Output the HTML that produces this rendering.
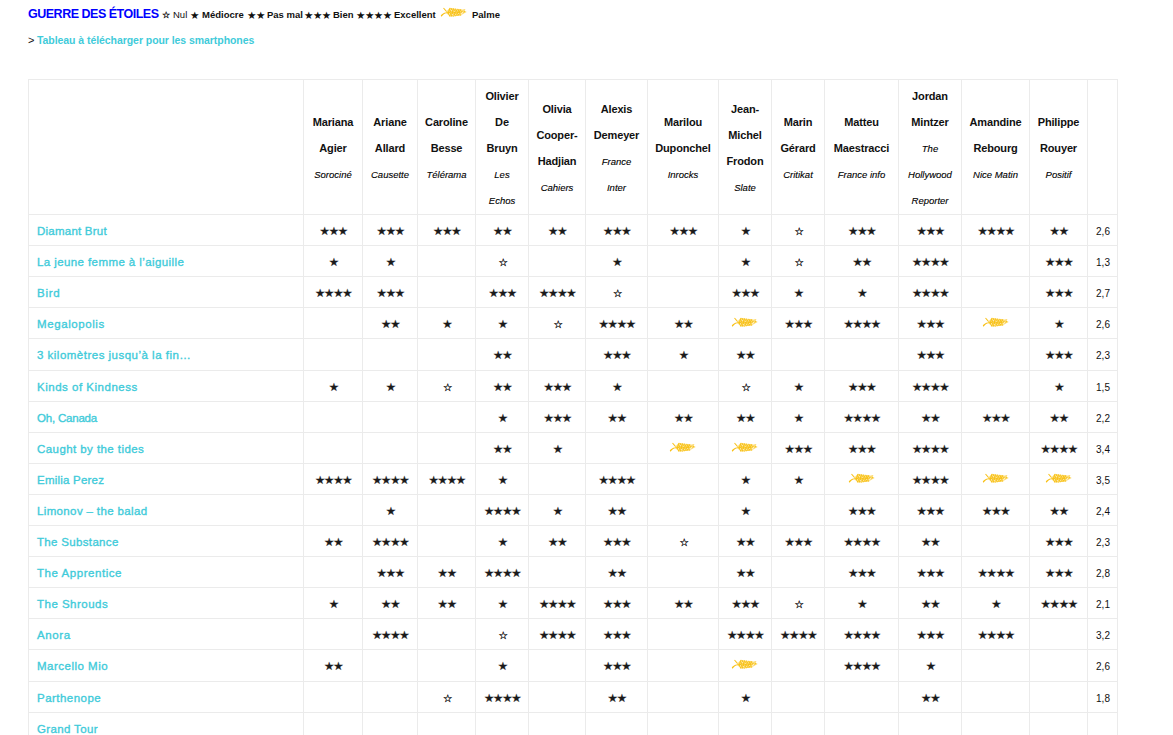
<!DOCTYPE html>
<html lang="fr"><head><meta charset="utf-8"><title>Guerre des étoiles</title>
<style>
*{box-sizing:border-box}
html,body{margin:0;padding:0;background:#fff}
body{width:1173px;height:735px;overflow:hidden;position:relative;font-family:"Liberation Sans",Arial,sans-serif;color:#111}
.title{position:absolute;left:28px;top:1px;font-weight:bold;font-size:12.5px;letter-spacing:-0.49px;color:#0000ff;white-space:nowrap;line-height:26px}
.lg{position:absolute;top:2px;font-size:9.5px;line-height:26px;white-space:nowrap;font-weight:bold;color:#111}
.lg.n{font-weight:normal}
.lst{font-family:"DejaVu Sans",sans-serif;font-weight:normal;font-size:10.5px;letter-spacing:-0.5px}
.lst.e{-webkit-text-stroke:0.3px #111;font-size:9.2px}
.lp{position:absolute;left:440px;top:6px}
.link{position:absolute;left:28px;top:27px;font-size:10.5px;line-height:26px;white-space:nowrap;color:#111}
.link .gt{font-size:11px}
.link a{position:absolute;left:9px;color:#3fcbda;font-size:10.5px;font-weight:bold;letter-spacing:-0.06px}
.grid{position:absolute;left:28px;top:79px;display:grid;background:#ebebeb;padding:1px;gap:1px;
 grid-template-columns:274px 58px 54px 57px 52px 56px 61px 70px 52px 52px 73px 62px 67px 57px 29px;grid-template-rows:134px 30px 30px 30px 30px 31px 30px 30px 30px 30px 30px 30px 30px 30px 30px 31px 30px 30px}
.c{background:#fff;position:relative;overflow:hidden}
.hd{text-align:center}
.hb{position:absolute;left:0;right:0;top:50%;transform:translateY(-50%)}
.ln{height:26px;line-height:26px;font-size:11px;font-weight:bold;position:relative;top:1px;letter-spacing:-0.15px}
.lj{height:26px;line-height:26px;font-size:9.5px;font-style:italic;position:relative;top:2px;color:#000;-webkit-text-stroke:0.12px #000}
.fn{font-size:11.5px;font-weight:normal;padding-left:8px;line-height:30px;padding-top:1px;white-space:nowrap}
.fn a{color:#3fcbda;-webkit-text-stroke:0.35px #3fcbda}
.sc{text-align:center;line-height:30px}
.st{font-family:"DejaVu Sans",sans-serif;font-size:11.5px;letter-spacing:-1.2px;color:#1a1a1a;-webkit-text-stroke:0.15px #1a1a1a;position:relative;left:0.2px}
.palm{display:block;margin:8px auto 0}
.st.e{font-size:10.5px;-webkit-text-stroke:0.3px #111;left:0.5px;top:-0.5px}
.av{font-size:10px;padding-left:8px;line-height:30px;padding-top:2px;letter-spacing:0.05px;color:#111}
</style></head>
<body>
<div class="title">GUERRE DES ÉTOILES</div>
<div class="lg " style="left:162px"><span class="lst e">☆</span></div><div class="lg n" style="left:173px">Nul</div><div class="lg " style="left:190px"><span class="lst">★</span></div><div class="lg " style="left:202px">Médiocre</div><div class="lg " style="left:247px"><span class="lst">★★</span></div><div class="lg " style="left:267px">Pas mal</div><div class="lg " style="left:304px"><span class="lst">★★★</span></div><div class="lg " style="left:333px">Bien</div><div class="lg " style="left:356px"><span class="lst">★★★★</span></div><div class="lg " style="left:394px">Excellent</div><svg class="lp" width="28" height="12" viewBox="0 0 28 12"><path d="M0.9 9.2 C2.2 7.6 3.8 6.7 5.8 6.4 L6.4 7.2 C4.6 7.4 3 8.4 1.8 10.4 C1.3 10.6 0.8 10 0.9 9.2 Z" fill="#f8c016"/><path d="M3.1 2.3 L3.9 1.8 L7 5.3 L6.3 5.9 Z" fill="#f8c016"/><path d="M6.2 6.8 C7 5 8.2 3 9.8 2 C11.5 2.6 13 2.4 14.5 2.8 C16.5 2.7 18.5 3.2 20.5 3.6 L21.9 3.8 L24.8 2.9 L25.5 3.4 L24.6 4.6 L26.7 6.1 L24.8 6.9 C23.4 7.6 22 8.6 20.5 9.3 C18 9.9 15 10.3 12.6 10.5 C11 10.5 9.6 10 8.6 9.2 C7.6 8.6 6.8 7.8 6.2 6.8 Z" fill="#fcdc76"/><g fill="none" stroke="#f8c21a" stroke-width="1.1" stroke-linecap="round"><path d="M8.4 6.6 L10.0 2.3 M10.2 6.6 L11.8 2.5 M12.0 6.6 L13.6 2.7 M13.8 6.6 L15.4 3.0 M15.6 6.6 L17.2 3.2 M17.4 6.6 L19.0 3.4 M19.2 6.6 L20.8 3.6"/><path d="M8.4 6.9 L9.9 10.2 M10.2 6.9 L11.7 10.0 M12.0 6.9 L13.5 9.9 M13.8 6.9 L15.3 9.7 M15.6 6.9 L17.1 9.5 M17.4 6.9 L18.9 9.3 M19.2 6.9 L20.7 9.2"/><path d="M6.6 6.8 C12 6.6 18 6.4 24.5 5.6"/></g><g fill="#fff" opacity="0.8"><circle cx="9.6" cy="7.8" r="0.6"/><circle cx="11.4" cy="4.6" r="0.5"/><circle cx="12.6" cy="8.6" r="0.55"/><circle cx="14.4" cy="5.2" r="0.5"/><circle cx="15.8" cy="8.2" r="0.5"/><circle cx="17.6" cy="4.9" r="0.45"/><circle cx="18.8" cy="7.6" r="0.5"/><circle cx="10.8" cy="3.3" r="0.4"/><circle cx="13.2" cy="9.7" r="0.4"/><circle cx="20.4" cy="5.6" r="0.45"/><circle cx="16.6" cy="3.6" r="0.35"/><circle cx="11.0" cy="6.4" r="0.45"/><circle cx="13.6" cy="7.0" r="0.4"/><circle cx="16.2" cy="6.2" r="0.4"/></g><path d="M21.1 8.4 L23.4 5.2" stroke="#fff" stroke-width="0.8" opacity="0.85"/></svg><div class="lg " style="left:472px">Palme</div>
<div class="link"><span class="gt">&gt;</span> <a>Tableau à télécharger pour les smartphones</a></div>
<div class="grid">
<div class="c h0"></div>
<div class="c hd"><div class="hb"><div class="ln">Mariana</div><div class="ln">Agier</div><div class="lj">Sorociné</div></div></div>
<div class="c hd"><div class="hb"><div class="ln">Ariane</div><div class="ln">Allard</div><div class="lj">Causette</div></div></div>
<div class="c hd"><div class="hb"><div class="ln">Caroline</div><div class="ln">Besse</div><div class="lj">Télérama</div></div></div>
<div class="c hd"><div class="hb"><div class="ln">Olivier</div><div class="ln">De</div><div class="ln">Bruyn</div><div class="lj">Les</div><div class="lj">Echos</div></div></div>
<div class="c hd"><div class="hb"><div class="ln">Olivia</div><div class="ln">Cooper-</div><div class="ln">Hadjian</div><div class="lj">Cahiers</div></div></div>
<div class="c hd"><div class="hb"><div class="ln">Alexis</div><div class="ln">Demeyer</div><div class="lj">France</div><div class="lj">Inter</div></div></div>
<div class="c hd"><div class="hb"><div class="ln">Marilou</div><div class="ln">Duponchel</div><div class="lj">Inrocks</div></div></div>
<div class="c hd"><div class="hb"><div class="ln">Jean-</div><div class="ln">Michel</div><div class="ln">Frodon</div><div class="lj">Slate</div></div></div>
<div class="c hd"><div class="hb"><div class="ln">Marin</div><div class="ln">Gérard</div><div class="lj">Critikat</div></div></div>
<div class="c hd"><div class="hb"><div class="ln">Matteu</div><div class="ln">Maestracci</div><div class="lj">France info</div></div></div>
<div class="c hd"><div class="hb"><div class="ln">Jordan</div><div class="ln">Mintzer</div><div class="lj">The</div><div class="lj">Hollywood</div><div class="lj">Reporter</div></div></div>
<div class="c hd"><div class="hb"><div class="ln">Amandine</div><div class="ln">Rebourg</div><div class="lj">Nice Matin</div></div></div>
<div class="c hd"><div class="hb"><div class="ln">Philippe</div><div class="ln">Rouyer</div><div class="lj">Positif</div></div></div>
<div class="c hd"></div>
<div class="c fn"><a style="letter-spacing:0.23px">Diamant Brut</a></div>
<div class="c sc"><span class="st">★★★</span></div>
<div class="c sc"><span class="st">★★★</span></div>
<div class="c sc"><span class="st">★★★</span></div>
<div class="c sc"><span class="st">★★</span></div>
<div class="c sc"><span class="st">★★</span></div>
<div class="c sc"><span class="st">★★★</span></div>
<div class="c sc"><span class="st">★★★</span></div>
<div class="c sc"><span class="st">★</span></div>
<div class="c sc"><span class="st e">☆</span></div>
<div class="c sc"><span class="st">★★★</span></div>
<div class="c sc"><span class="st">★★★</span></div>
<div class="c sc"><span class="st">★★★★</span></div>
<div class="c sc"><span class="st">★★</span></div>
<div class="c av">2,6</div>
<div class="c fn"><a style="letter-spacing:0.41px">La jeune femme à l’aiguille</a></div>
<div class="c sc"><span class="st">★</span></div>
<div class="c sc"><span class="st">★</span></div>
<div class="c sc"></div>
<div class="c sc"><span class="st e">☆</span></div>
<div class="c sc"></div>
<div class="c sc"><span class="st">★</span></div>
<div class="c sc"></div>
<div class="c sc"><span class="st">★</span></div>
<div class="c sc"><span class="st e">☆</span></div>
<div class="c sc"><span class="st">★★</span></div>
<div class="c sc"><span class="st">★★★★</span></div>
<div class="c sc"></div>
<div class="c sc"><span class="st">★★★</span></div>
<div class="c av">1,3</div>
<div class="c fn"><a style="letter-spacing:0.73px">Bird</a></div>
<div class="c sc"><span class="st">★★★★</span></div>
<div class="c sc"><span class="st">★★★</span></div>
<div class="c sc"></div>
<div class="c sc"><span class="st">★★★</span></div>
<div class="c sc"><span class="st">★★★★</span></div>
<div class="c sc"><span class="st e">☆</span></div>
<div class="c sc"></div>
<div class="c sc"><span class="st">★★★</span></div>
<div class="c sc"><span class="st">★</span></div>
<div class="c sc"><span class="st">★</span></div>
<div class="c sc"><span class="st">★★★★</span></div>
<div class="c sc"></div>
<div class="c sc"><span class="st">★★★</span></div>
<div class="c av">2,7</div>
<div class="c fn"><a style="letter-spacing:0.59px">Megalopolis</a></div>
<div class="c sc"></div>
<div class="c sc"><span class="st">★★</span></div>
<div class="c sc"><span class="st">★</span></div>
<div class="c sc"><span class="st">★</span></div>
<div class="c sc"><span class="st e">☆</span></div>
<div class="c sc"><span class="st">★★★★</span></div>
<div class="c sc"><span class="st">★★</span></div>
<div class="c sc"><svg class="palm" width="28" height="12" viewBox="0 0 28 12"><path d="M0.9 9.2 C2.2 7.6 3.8 6.7 5.8 6.4 L6.4 7.2 C4.6 7.4 3 8.4 1.8 10.4 C1.3 10.6 0.8 10 0.9 9.2 Z" fill="#f8c016"/><path d="M3.1 2.3 L3.9 1.8 L7 5.3 L6.3 5.9 Z" fill="#f8c016"/><path d="M6.2 6.8 C7 5 8.2 3 9.8 2 C11.5 2.6 13 2.4 14.5 2.8 C16.5 2.7 18.5 3.2 20.5 3.6 L21.9 3.8 L24.8 2.9 L25.5 3.4 L24.6 4.6 L26.7 6.1 L24.8 6.9 C23.4 7.6 22 8.6 20.5 9.3 C18 9.9 15 10.3 12.6 10.5 C11 10.5 9.6 10 8.6 9.2 C7.6 8.6 6.8 7.8 6.2 6.8 Z" fill="#fcdc76"/><g fill="none" stroke="#f8c21a" stroke-width="1.1" stroke-linecap="round"><path d="M8.4 6.6 L10.0 2.3 M10.2 6.6 L11.8 2.5 M12.0 6.6 L13.6 2.7 M13.8 6.6 L15.4 3.0 M15.6 6.6 L17.2 3.2 M17.4 6.6 L19.0 3.4 M19.2 6.6 L20.8 3.6"/><path d="M8.4 6.9 L9.9 10.2 M10.2 6.9 L11.7 10.0 M12.0 6.9 L13.5 9.9 M13.8 6.9 L15.3 9.7 M15.6 6.9 L17.1 9.5 M17.4 6.9 L18.9 9.3 M19.2 6.9 L20.7 9.2"/><path d="M6.6 6.8 C12 6.6 18 6.4 24.5 5.6"/></g><g fill="#fff" opacity="0.8"><circle cx="9.6" cy="7.8" r="0.6"/><circle cx="11.4" cy="4.6" r="0.5"/><circle cx="12.6" cy="8.6" r="0.55"/><circle cx="14.4" cy="5.2" r="0.5"/><circle cx="15.8" cy="8.2" r="0.5"/><circle cx="17.6" cy="4.9" r="0.45"/><circle cx="18.8" cy="7.6" r="0.5"/><circle cx="10.8" cy="3.3" r="0.4"/><circle cx="13.2" cy="9.7" r="0.4"/><circle cx="20.4" cy="5.6" r="0.45"/><circle cx="16.6" cy="3.6" r="0.35"/><circle cx="11.0" cy="6.4" r="0.45"/><circle cx="13.6" cy="7.0" r="0.4"/><circle cx="16.2" cy="6.2" r="0.4"/></g><path d="M21.1 8.4 L23.4 5.2" stroke="#fff" stroke-width="0.8" opacity="0.85"/></svg></div>
<div class="c sc"><span class="st">★★★</span></div>
<div class="c sc"><span class="st">★★★★</span></div>
<div class="c sc"><span class="st">★★★</span></div>
<div class="c sc"><svg class="palm" width="28" height="12" viewBox="0 0 28 12"><path d="M0.9 9.2 C2.2 7.6 3.8 6.7 5.8 6.4 L6.4 7.2 C4.6 7.4 3 8.4 1.8 10.4 C1.3 10.6 0.8 10 0.9 9.2 Z" fill="#f8c016"/><path d="M3.1 2.3 L3.9 1.8 L7 5.3 L6.3 5.9 Z" fill="#f8c016"/><path d="M6.2 6.8 C7 5 8.2 3 9.8 2 C11.5 2.6 13 2.4 14.5 2.8 C16.5 2.7 18.5 3.2 20.5 3.6 L21.9 3.8 L24.8 2.9 L25.5 3.4 L24.6 4.6 L26.7 6.1 L24.8 6.9 C23.4 7.6 22 8.6 20.5 9.3 C18 9.9 15 10.3 12.6 10.5 C11 10.5 9.6 10 8.6 9.2 C7.6 8.6 6.8 7.8 6.2 6.8 Z" fill="#fcdc76"/><g fill="none" stroke="#f8c21a" stroke-width="1.1" stroke-linecap="round"><path d="M8.4 6.6 L10.0 2.3 M10.2 6.6 L11.8 2.5 M12.0 6.6 L13.6 2.7 M13.8 6.6 L15.4 3.0 M15.6 6.6 L17.2 3.2 M17.4 6.6 L19.0 3.4 M19.2 6.6 L20.8 3.6"/><path d="M8.4 6.9 L9.9 10.2 M10.2 6.9 L11.7 10.0 M12.0 6.9 L13.5 9.9 M13.8 6.9 L15.3 9.7 M15.6 6.9 L17.1 9.5 M17.4 6.9 L18.9 9.3 M19.2 6.9 L20.7 9.2"/><path d="M6.6 6.8 C12 6.6 18 6.4 24.5 5.6"/></g><g fill="#fff" opacity="0.8"><circle cx="9.6" cy="7.8" r="0.6"/><circle cx="11.4" cy="4.6" r="0.5"/><circle cx="12.6" cy="8.6" r="0.55"/><circle cx="14.4" cy="5.2" r="0.5"/><circle cx="15.8" cy="8.2" r="0.5"/><circle cx="17.6" cy="4.9" r="0.45"/><circle cx="18.8" cy="7.6" r="0.5"/><circle cx="10.8" cy="3.3" r="0.4"/><circle cx="13.2" cy="9.7" r="0.4"/><circle cx="20.4" cy="5.6" r="0.45"/><circle cx="16.6" cy="3.6" r="0.35"/><circle cx="11.0" cy="6.4" r="0.45"/><circle cx="13.6" cy="7.0" r="0.4"/><circle cx="16.2" cy="6.2" r="0.4"/></g><path d="M21.1 8.4 L23.4 5.2" stroke="#fff" stroke-width="0.8" opacity="0.85"/></svg></div>
<div class="c sc"><span class="st">★</span></div>
<div class="c av">2,6</div>
<div class="c fn"><a style="letter-spacing:0.49px">3 kilomètres jusqu’à la fin…</a></div>
<div class="c sc"></div>
<div class="c sc"></div>
<div class="c sc"></div>
<div class="c sc"><span class="st">★★</span></div>
<div class="c sc"></div>
<div class="c sc"><span class="st">★★★</span></div>
<div class="c sc"><span class="st">★</span></div>
<div class="c sc"><span class="st">★★</span></div>
<div class="c sc"></div>
<div class="c sc"></div>
<div class="c sc"><span class="st">★★★</span></div>
<div class="c sc"></div>
<div class="c sc"><span class="st">★★★</span></div>
<div class="c av">2,3</div>
<div class="c fn"><a style="letter-spacing:0.51px">Kinds of Kindness</a></div>
<div class="c sc"><span class="st">★</span></div>
<div class="c sc"><span class="st">★</span></div>
<div class="c sc"><span class="st e">☆</span></div>
<div class="c sc"><span class="st">★★</span></div>
<div class="c sc"><span class="st">★★★</span></div>
<div class="c sc"><span class="st">★</span></div>
<div class="c sc"></div>
<div class="c sc"><span class="st e">☆</span></div>
<div class="c sc"><span class="st">★</span></div>
<div class="c sc"><span class="st">★★★</span></div>
<div class="c sc"><span class="st">★★★★</span></div>
<div class="c sc"></div>
<div class="c sc"><span class="st">★</span></div>
<div class="c av">1,5</div>
<div class="c fn"><a style="letter-spacing:-0.20px">Oh, Canada</a></div>
<div class="c sc"></div>
<div class="c sc"></div>
<div class="c sc"></div>
<div class="c sc"><span class="st">★</span></div>
<div class="c sc"><span class="st">★★★</span></div>
<div class="c sc"><span class="st">★★</span></div>
<div class="c sc"><span class="st">★★</span></div>
<div class="c sc"><span class="st">★★</span></div>
<div class="c sc"><span class="st">★</span></div>
<div class="c sc"><span class="st">★★★★</span></div>
<div class="c sc"><span class="st">★★</span></div>
<div class="c sc"><span class="st">★★★</span></div>
<div class="c sc"><span class="st">★★</span></div>
<div class="c av">2,2</div>
<div class="c fn"><a style="letter-spacing:0.43px">Caught by the tides</a></div>
<div class="c sc"></div>
<div class="c sc"></div>
<div class="c sc"></div>
<div class="c sc"><span class="st">★★</span></div>
<div class="c sc"><span class="st">★</span></div>
<div class="c sc"></div>
<div class="c sc"><svg class="palm" width="28" height="12" viewBox="0 0 28 12"><path d="M0.9 9.2 C2.2 7.6 3.8 6.7 5.8 6.4 L6.4 7.2 C4.6 7.4 3 8.4 1.8 10.4 C1.3 10.6 0.8 10 0.9 9.2 Z" fill="#f8c016"/><path d="M3.1 2.3 L3.9 1.8 L7 5.3 L6.3 5.9 Z" fill="#f8c016"/><path d="M6.2 6.8 C7 5 8.2 3 9.8 2 C11.5 2.6 13 2.4 14.5 2.8 C16.5 2.7 18.5 3.2 20.5 3.6 L21.9 3.8 L24.8 2.9 L25.5 3.4 L24.6 4.6 L26.7 6.1 L24.8 6.9 C23.4 7.6 22 8.6 20.5 9.3 C18 9.9 15 10.3 12.6 10.5 C11 10.5 9.6 10 8.6 9.2 C7.6 8.6 6.8 7.8 6.2 6.8 Z" fill="#fcdc76"/><g fill="none" stroke="#f8c21a" stroke-width="1.1" stroke-linecap="round"><path d="M8.4 6.6 L10.0 2.3 M10.2 6.6 L11.8 2.5 M12.0 6.6 L13.6 2.7 M13.8 6.6 L15.4 3.0 M15.6 6.6 L17.2 3.2 M17.4 6.6 L19.0 3.4 M19.2 6.6 L20.8 3.6"/><path d="M8.4 6.9 L9.9 10.2 M10.2 6.9 L11.7 10.0 M12.0 6.9 L13.5 9.9 M13.8 6.9 L15.3 9.7 M15.6 6.9 L17.1 9.5 M17.4 6.9 L18.9 9.3 M19.2 6.9 L20.7 9.2"/><path d="M6.6 6.8 C12 6.6 18 6.4 24.5 5.6"/></g><g fill="#fff" opacity="0.8"><circle cx="9.6" cy="7.8" r="0.6"/><circle cx="11.4" cy="4.6" r="0.5"/><circle cx="12.6" cy="8.6" r="0.55"/><circle cx="14.4" cy="5.2" r="0.5"/><circle cx="15.8" cy="8.2" r="0.5"/><circle cx="17.6" cy="4.9" r="0.45"/><circle cx="18.8" cy="7.6" r="0.5"/><circle cx="10.8" cy="3.3" r="0.4"/><circle cx="13.2" cy="9.7" r="0.4"/><circle cx="20.4" cy="5.6" r="0.45"/><circle cx="16.6" cy="3.6" r="0.35"/><circle cx="11.0" cy="6.4" r="0.45"/><circle cx="13.6" cy="7.0" r="0.4"/><circle cx="16.2" cy="6.2" r="0.4"/></g><path d="M21.1 8.4 L23.4 5.2" stroke="#fff" stroke-width="0.8" opacity="0.85"/></svg></div>
<div class="c sc"><svg class="palm" width="28" height="12" viewBox="0 0 28 12"><path d="M0.9 9.2 C2.2 7.6 3.8 6.7 5.8 6.4 L6.4 7.2 C4.6 7.4 3 8.4 1.8 10.4 C1.3 10.6 0.8 10 0.9 9.2 Z" fill="#f8c016"/><path d="M3.1 2.3 L3.9 1.8 L7 5.3 L6.3 5.9 Z" fill="#f8c016"/><path d="M6.2 6.8 C7 5 8.2 3 9.8 2 C11.5 2.6 13 2.4 14.5 2.8 C16.5 2.7 18.5 3.2 20.5 3.6 L21.9 3.8 L24.8 2.9 L25.5 3.4 L24.6 4.6 L26.7 6.1 L24.8 6.9 C23.4 7.6 22 8.6 20.5 9.3 C18 9.9 15 10.3 12.6 10.5 C11 10.5 9.6 10 8.6 9.2 C7.6 8.6 6.8 7.8 6.2 6.8 Z" fill="#fcdc76"/><g fill="none" stroke="#f8c21a" stroke-width="1.1" stroke-linecap="round"><path d="M8.4 6.6 L10.0 2.3 M10.2 6.6 L11.8 2.5 M12.0 6.6 L13.6 2.7 M13.8 6.6 L15.4 3.0 M15.6 6.6 L17.2 3.2 M17.4 6.6 L19.0 3.4 M19.2 6.6 L20.8 3.6"/><path d="M8.4 6.9 L9.9 10.2 M10.2 6.9 L11.7 10.0 M12.0 6.9 L13.5 9.9 M13.8 6.9 L15.3 9.7 M15.6 6.9 L17.1 9.5 M17.4 6.9 L18.9 9.3 M19.2 6.9 L20.7 9.2"/><path d="M6.6 6.8 C12 6.6 18 6.4 24.5 5.6"/></g><g fill="#fff" opacity="0.8"><circle cx="9.6" cy="7.8" r="0.6"/><circle cx="11.4" cy="4.6" r="0.5"/><circle cx="12.6" cy="8.6" r="0.55"/><circle cx="14.4" cy="5.2" r="0.5"/><circle cx="15.8" cy="8.2" r="0.5"/><circle cx="17.6" cy="4.9" r="0.45"/><circle cx="18.8" cy="7.6" r="0.5"/><circle cx="10.8" cy="3.3" r="0.4"/><circle cx="13.2" cy="9.7" r="0.4"/><circle cx="20.4" cy="5.6" r="0.45"/><circle cx="16.6" cy="3.6" r="0.35"/><circle cx="11.0" cy="6.4" r="0.45"/><circle cx="13.6" cy="7.0" r="0.4"/><circle cx="16.2" cy="6.2" r="0.4"/></g><path d="M21.1 8.4 L23.4 5.2" stroke="#fff" stroke-width="0.8" opacity="0.85"/></svg></div>
<div class="c sc"><span class="st">★★★</span></div>
<div class="c sc"><span class="st">★★★</span></div>
<div class="c sc"><span class="st">★★★★</span></div>
<div class="c sc"></div>
<div class="c sc"><span class="st">★★★★</span></div>
<div class="c av">3,4</div>
<div class="c fn"><a style="letter-spacing:0.22px">Emilia Perez</a></div>
<div class="c sc"><span class="st">★★★★</span></div>
<div class="c sc"><span class="st">★★★★</span></div>
<div class="c sc"><span class="st">★★★★</span></div>
<div class="c sc"><span class="st">★</span></div>
<div class="c sc"></div>
<div class="c sc"><span class="st">★★★★</span></div>
<div class="c sc"></div>
<div class="c sc"><span class="st">★</span></div>
<div class="c sc"><span class="st">★</span></div>
<div class="c sc"><svg class="palm" width="28" height="12" viewBox="0 0 28 12"><path d="M0.9 9.2 C2.2 7.6 3.8 6.7 5.8 6.4 L6.4 7.2 C4.6 7.4 3 8.4 1.8 10.4 C1.3 10.6 0.8 10 0.9 9.2 Z" fill="#f8c016"/><path d="M3.1 2.3 L3.9 1.8 L7 5.3 L6.3 5.9 Z" fill="#f8c016"/><path d="M6.2 6.8 C7 5 8.2 3 9.8 2 C11.5 2.6 13 2.4 14.5 2.8 C16.5 2.7 18.5 3.2 20.5 3.6 L21.9 3.8 L24.8 2.9 L25.5 3.4 L24.6 4.6 L26.7 6.1 L24.8 6.9 C23.4 7.6 22 8.6 20.5 9.3 C18 9.9 15 10.3 12.6 10.5 C11 10.5 9.6 10 8.6 9.2 C7.6 8.6 6.8 7.8 6.2 6.8 Z" fill="#fcdc76"/><g fill="none" stroke="#f8c21a" stroke-width="1.1" stroke-linecap="round"><path d="M8.4 6.6 L10.0 2.3 M10.2 6.6 L11.8 2.5 M12.0 6.6 L13.6 2.7 M13.8 6.6 L15.4 3.0 M15.6 6.6 L17.2 3.2 M17.4 6.6 L19.0 3.4 M19.2 6.6 L20.8 3.6"/><path d="M8.4 6.9 L9.9 10.2 M10.2 6.9 L11.7 10.0 M12.0 6.9 L13.5 9.9 M13.8 6.9 L15.3 9.7 M15.6 6.9 L17.1 9.5 M17.4 6.9 L18.9 9.3 M19.2 6.9 L20.7 9.2"/><path d="M6.6 6.8 C12 6.6 18 6.4 24.5 5.6"/></g><g fill="#fff" opacity="0.8"><circle cx="9.6" cy="7.8" r="0.6"/><circle cx="11.4" cy="4.6" r="0.5"/><circle cx="12.6" cy="8.6" r="0.55"/><circle cx="14.4" cy="5.2" r="0.5"/><circle cx="15.8" cy="8.2" r="0.5"/><circle cx="17.6" cy="4.9" r="0.45"/><circle cx="18.8" cy="7.6" r="0.5"/><circle cx="10.8" cy="3.3" r="0.4"/><circle cx="13.2" cy="9.7" r="0.4"/><circle cx="20.4" cy="5.6" r="0.45"/><circle cx="16.6" cy="3.6" r="0.35"/><circle cx="11.0" cy="6.4" r="0.45"/><circle cx="13.6" cy="7.0" r="0.4"/><circle cx="16.2" cy="6.2" r="0.4"/></g><path d="M21.1 8.4 L23.4 5.2" stroke="#fff" stroke-width="0.8" opacity="0.85"/></svg></div>
<div class="c sc"><span class="st">★★★★</span></div>
<div class="c sc"><svg class="palm" width="28" height="12" viewBox="0 0 28 12"><path d="M0.9 9.2 C2.2 7.6 3.8 6.7 5.8 6.4 L6.4 7.2 C4.6 7.4 3 8.4 1.8 10.4 C1.3 10.6 0.8 10 0.9 9.2 Z" fill="#f8c016"/><path d="M3.1 2.3 L3.9 1.8 L7 5.3 L6.3 5.9 Z" fill="#f8c016"/><path d="M6.2 6.8 C7 5 8.2 3 9.8 2 C11.5 2.6 13 2.4 14.5 2.8 C16.5 2.7 18.5 3.2 20.5 3.6 L21.9 3.8 L24.8 2.9 L25.5 3.4 L24.6 4.6 L26.7 6.1 L24.8 6.9 C23.4 7.6 22 8.6 20.5 9.3 C18 9.9 15 10.3 12.6 10.5 C11 10.5 9.6 10 8.6 9.2 C7.6 8.6 6.8 7.8 6.2 6.8 Z" fill="#fcdc76"/><g fill="none" stroke="#f8c21a" stroke-width="1.1" stroke-linecap="round"><path d="M8.4 6.6 L10.0 2.3 M10.2 6.6 L11.8 2.5 M12.0 6.6 L13.6 2.7 M13.8 6.6 L15.4 3.0 M15.6 6.6 L17.2 3.2 M17.4 6.6 L19.0 3.4 M19.2 6.6 L20.8 3.6"/><path d="M8.4 6.9 L9.9 10.2 M10.2 6.9 L11.7 10.0 M12.0 6.9 L13.5 9.9 M13.8 6.9 L15.3 9.7 M15.6 6.9 L17.1 9.5 M17.4 6.9 L18.9 9.3 M19.2 6.9 L20.7 9.2"/><path d="M6.6 6.8 C12 6.6 18 6.4 24.5 5.6"/></g><g fill="#fff" opacity="0.8"><circle cx="9.6" cy="7.8" r="0.6"/><circle cx="11.4" cy="4.6" r="0.5"/><circle cx="12.6" cy="8.6" r="0.55"/><circle cx="14.4" cy="5.2" r="0.5"/><circle cx="15.8" cy="8.2" r="0.5"/><circle cx="17.6" cy="4.9" r="0.45"/><circle cx="18.8" cy="7.6" r="0.5"/><circle cx="10.8" cy="3.3" r="0.4"/><circle cx="13.2" cy="9.7" r="0.4"/><circle cx="20.4" cy="5.6" r="0.45"/><circle cx="16.6" cy="3.6" r="0.35"/><circle cx="11.0" cy="6.4" r="0.45"/><circle cx="13.6" cy="7.0" r="0.4"/><circle cx="16.2" cy="6.2" r="0.4"/></g><path d="M21.1 8.4 L23.4 5.2" stroke="#fff" stroke-width="0.8" opacity="0.85"/></svg></div>
<div class="c sc"><svg class="palm" width="28" height="12" viewBox="0 0 28 12"><path d="M0.9 9.2 C2.2 7.6 3.8 6.7 5.8 6.4 L6.4 7.2 C4.6 7.4 3 8.4 1.8 10.4 C1.3 10.6 0.8 10 0.9 9.2 Z" fill="#f8c016"/><path d="M3.1 2.3 L3.9 1.8 L7 5.3 L6.3 5.9 Z" fill="#f8c016"/><path d="M6.2 6.8 C7 5 8.2 3 9.8 2 C11.5 2.6 13 2.4 14.5 2.8 C16.5 2.7 18.5 3.2 20.5 3.6 L21.9 3.8 L24.8 2.9 L25.5 3.4 L24.6 4.6 L26.7 6.1 L24.8 6.9 C23.4 7.6 22 8.6 20.5 9.3 C18 9.9 15 10.3 12.6 10.5 C11 10.5 9.6 10 8.6 9.2 C7.6 8.6 6.8 7.8 6.2 6.8 Z" fill="#fcdc76"/><g fill="none" stroke="#f8c21a" stroke-width="1.1" stroke-linecap="round"><path d="M8.4 6.6 L10.0 2.3 M10.2 6.6 L11.8 2.5 M12.0 6.6 L13.6 2.7 M13.8 6.6 L15.4 3.0 M15.6 6.6 L17.2 3.2 M17.4 6.6 L19.0 3.4 M19.2 6.6 L20.8 3.6"/><path d="M8.4 6.9 L9.9 10.2 M10.2 6.9 L11.7 10.0 M12.0 6.9 L13.5 9.9 M13.8 6.9 L15.3 9.7 M15.6 6.9 L17.1 9.5 M17.4 6.9 L18.9 9.3 M19.2 6.9 L20.7 9.2"/><path d="M6.6 6.8 C12 6.6 18 6.4 24.5 5.6"/></g><g fill="#fff" opacity="0.8"><circle cx="9.6" cy="7.8" r="0.6"/><circle cx="11.4" cy="4.6" r="0.5"/><circle cx="12.6" cy="8.6" r="0.55"/><circle cx="14.4" cy="5.2" r="0.5"/><circle cx="15.8" cy="8.2" r="0.5"/><circle cx="17.6" cy="4.9" r="0.45"/><circle cx="18.8" cy="7.6" r="0.5"/><circle cx="10.8" cy="3.3" r="0.4"/><circle cx="13.2" cy="9.7" r="0.4"/><circle cx="20.4" cy="5.6" r="0.45"/><circle cx="16.6" cy="3.6" r="0.35"/><circle cx="11.0" cy="6.4" r="0.45"/><circle cx="13.6" cy="7.0" r="0.4"/><circle cx="16.2" cy="6.2" r="0.4"/></g><path d="M21.1 8.4 L23.4 5.2" stroke="#fff" stroke-width="0.8" opacity="0.85"/></svg></div>
<div class="c av">3,5</div>
<div class="c fn"><a style="letter-spacing:0.36px">Limonov – the balad</a></div>
<div class="c sc"></div>
<div class="c sc"><span class="st">★</span></div>
<div class="c sc"></div>
<div class="c sc"><span class="st">★★★★</span></div>
<div class="c sc"><span class="st">★</span></div>
<div class="c sc"><span class="st">★★</span></div>
<div class="c sc"></div>
<div class="c sc"><span class="st">★</span></div>
<div class="c sc"></div>
<div class="c sc"><span class="st">★★★</span></div>
<div class="c sc"><span class="st">★★★</span></div>
<div class="c sc"><span class="st">★★★</span></div>
<div class="c sc"><span class="st">★★</span></div>
<div class="c av">2,4</div>
<div class="c fn"><a style="letter-spacing:0.33px">The Substance</a></div>
<div class="c sc"><span class="st">★★</span></div>
<div class="c sc"><span class="st">★★★★</span></div>
<div class="c sc"></div>
<div class="c sc"><span class="st">★</span></div>
<div class="c sc"><span class="st">★★</span></div>
<div class="c sc"><span class="st">★★★</span></div>
<div class="c sc"><span class="st e">☆</span></div>
<div class="c sc"><span class="st">★★</span></div>
<div class="c sc"><span class="st">★★★</span></div>
<div class="c sc"><span class="st">★★★★</span></div>
<div class="c sc"><span class="st">★★</span></div>
<div class="c sc"></div>
<div class="c sc"><span class="st">★★★</span></div>
<div class="c av">2,3</div>
<div class="c fn"><a style="letter-spacing:0.55px">The Apprentice</a></div>
<div class="c sc"></div>
<div class="c sc"><span class="st">★★★</span></div>
<div class="c sc"><span class="st">★★</span></div>
<div class="c sc"><span class="st">★★★★</span></div>
<div class="c sc"></div>
<div class="c sc"><span class="st">★★</span></div>
<div class="c sc"></div>
<div class="c sc"><span class="st">★★</span></div>
<div class="c sc"></div>
<div class="c sc"><span class="st">★★★</span></div>
<div class="c sc"><span class="st">★★★</span></div>
<div class="c sc"><span class="st">★★★★</span></div>
<div class="c sc"><span class="st">★★★</span></div>
<div class="c av">2,8</div>
<div class="c fn"><a style="letter-spacing:0.48px">The Shrouds</a></div>
<div class="c sc"><span class="st">★</span></div>
<div class="c sc"><span class="st">★★</span></div>
<div class="c sc"><span class="st">★★</span></div>
<div class="c sc"><span class="st">★</span></div>
<div class="c sc"><span class="st">★★★★</span></div>
<div class="c sc"><span class="st">★★★</span></div>
<div class="c sc"><span class="st">★★</span></div>
<div class="c sc"><span class="st">★★★</span></div>
<div class="c sc"><span class="st e">☆</span></div>
<div class="c sc"><span class="st">★</span></div>
<div class="c sc"><span class="st">★★</span></div>
<div class="c sc"><span class="st">★</span></div>
<div class="c sc"><span class="st">★★★★</span></div>
<div class="c av">2,1</div>
<div class="c fn"><a style="letter-spacing:0.62px">Anora</a></div>
<div class="c sc"></div>
<div class="c sc"><span class="st">★★★★</span></div>
<div class="c sc"></div>
<div class="c sc"><span class="st e">☆</span></div>
<div class="c sc"><span class="st">★★★★</span></div>
<div class="c sc"><span class="st">★★★</span></div>
<div class="c sc"></div>
<div class="c sc"><span class="st">★★★★</span></div>
<div class="c sc"><span class="st">★★★★</span></div>
<div class="c sc"><span class="st">★★★★</span></div>
<div class="c sc"><span class="st">★★★</span></div>
<div class="c sc"><span class="st">★★★★</span></div>
<div class="c sc"></div>
<div class="c av">3,2</div>
<div class="c fn"><a style="letter-spacing:0.49px">Marcello Mio</a></div>
<div class="c sc"><span class="st">★★</span></div>
<div class="c sc"></div>
<div class="c sc"></div>
<div class="c sc"><span class="st">★</span></div>
<div class="c sc"></div>
<div class="c sc"><span class="st">★★★</span></div>
<div class="c sc"></div>
<div class="c sc"><svg class="palm" width="28" height="12" viewBox="0 0 28 12"><path d="M0.9 9.2 C2.2 7.6 3.8 6.7 5.8 6.4 L6.4 7.2 C4.6 7.4 3 8.4 1.8 10.4 C1.3 10.6 0.8 10 0.9 9.2 Z" fill="#f8c016"/><path d="M3.1 2.3 L3.9 1.8 L7 5.3 L6.3 5.9 Z" fill="#f8c016"/><path d="M6.2 6.8 C7 5 8.2 3 9.8 2 C11.5 2.6 13 2.4 14.5 2.8 C16.5 2.7 18.5 3.2 20.5 3.6 L21.9 3.8 L24.8 2.9 L25.5 3.4 L24.6 4.6 L26.7 6.1 L24.8 6.9 C23.4 7.6 22 8.6 20.5 9.3 C18 9.9 15 10.3 12.6 10.5 C11 10.5 9.6 10 8.6 9.2 C7.6 8.6 6.8 7.8 6.2 6.8 Z" fill="#fcdc76"/><g fill="none" stroke="#f8c21a" stroke-width="1.1" stroke-linecap="round"><path d="M8.4 6.6 L10.0 2.3 M10.2 6.6 L11.8 2.5 M12.0 6.6 L13.6 2.7 M13.8 6.6 L15.4 3.0 M15.6 6.6 L17.2 3.2 M17.4 6.6 L19.0 3.4 M19.2 6.6 L20.8 3.6"/><path d="M8.4 6.9 L9.9 10.2 M10.2 6.9 L11.7 10.0 M12.0 6.9 L13.5 9.9 M13.8 6.9 L15.3 9.7 M15.6 6.9 L17.1 9.5 M17.4 6.9 L18.9 9.3 M19.2 6.9 L20.7 9.2"/><path d="M6.6 6.8 C12 6.6 18 6.4 24.5 5.6"/></g><g fill="#fff" opacity="0.8"><circle cx="9.6" cy="7.8" r="0.6"/><circle cx="11.4" cy="4.6" r="0.5"/><circle cx="12.6" cy="8.6" r="0.55"/><circle cx="14.4" cy="5.2" r="0.5"/><circle cx="15.8" cy="8.2" r="0.5"/><circle cx="17.6" cy="4.9" r="0.45"/><circle cx="18.8" cy="7.6" r="0.5"/><circle cx="10.8" cy="3.3" r="0.4"/><circle cx="13.2" cy="9.7" r="0.4"/><circle cx="20.4" cy="5.6" r="0.45"/><circle cx="16.6" cy="3.6" r="0.35"/><circle cx="11.0" cy="6.4" r="0.45"/><circle cx="13.6" cy="7.0" r="0.4"/><circle cx="16.2" cy="6.2" r="0.4"/></g><path d="M21.1 8.4 L23.4 5.2" stroke="#fff" stroke-width="0.8" opacity="0.85"/></svg></div>
<div class="c sc"></div>
<div class="c sc"><span class="st">★★★★</span></div>
<div class="c sc"><span class="st">★</span></div>
<div class="c sc"></div>
<div class="c sc"></div>
<div class="c av">2,6</div>
<div class="c fn"><a style="letter-spacing:0.47px">Parthenope</a></div>
<div class="c sc"></div>
<div class="c sc"></div>
<div class="c sc"><span class="st e">☆</span></div>
<div class="c sc"><span class="st">★★★★</span></div>
<div class="c sc"></div>
<div class="c sc"><span class="st">★★</span></div>
<div class="c sc"></div>
<div class="c sc"><span class="st">★</span></div>
<div class="c sc"></div>
<div class="c sc"></div>
<div class="c sc"><span class="st">★★</span></div>
<div class="c sc"></div>
<div class="c sc"></div>
<div class="c av">1,8</div>
<div class="c fn"><a style="letter-spacing:0.36px">Grand Tour</a></div>
<div class="c sc"></div>
<div class="c sc"></div>
<div class="c sc"></div>
<div class="c sc"></div>
<div class="c sc"></div>
<div class="c sc"></div>
<div class="c sc"></div>
<div class="c sc"></div>
<div class="c sc"></div>
<div class="c sc"></div>
<div class="c sc"></div>
<div class="c sc"></div>
<div class="c sc"></div>
<div class="c av"></div>
</div>
</body></html>
